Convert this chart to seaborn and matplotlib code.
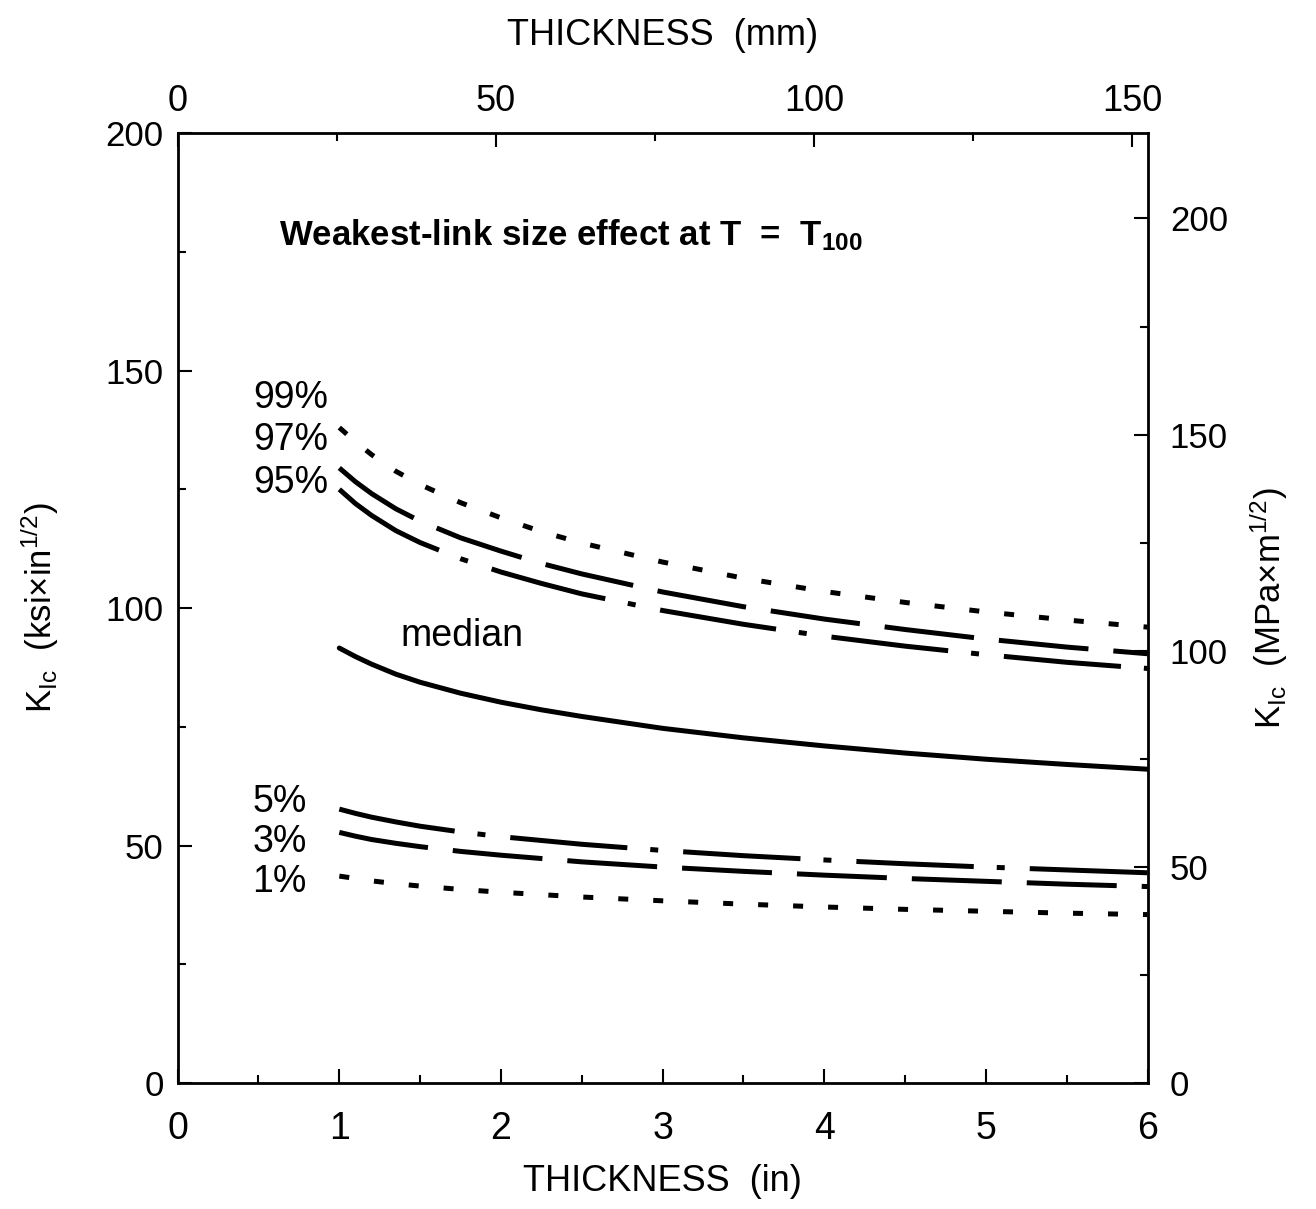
import numpy as np
import pandas as pd
import matplotlib.pyplot as plt
import seaborn as sns
from matplotlib.ticker import FixedLocator

# Data (thickness in inches, KIc in ksi*in^1/2)
thickness = [1, 1.1, 1.2, 1.35, 1.5, 1.75, 2, 2.25, 2.5, 3, 3.5, 4, 4.5, 5, 5.5, 6]
k99 = [138, 135, 132.3, 128.8, 126, 122.2, 119, 116.1, 113.7, 109.7, 106.3, 103.5, 101.2, 99.2, 97.5, 96]
k97 = [129.5, 126.6, 124.1, 120.9, 118.3, 114.8, 112, 109.4, 107.2, 103.4, 100.3, 97.7, 95.5, 93.5, 91.8, 90.4]
k95 = [125, 122, 119.5, 116.3, 113.8, 110.4, 107.6, 105.2, 103, 99.5, 96.6, 94.1, 92, 90.2, 88.6, 87.3]
k50 = [91.6, 89.8, 88.2, 86.1, 84.4, 82.1, 80.2, 78.6, 77.2, 74.7, 72.7, 71, 69.5, 68.2, 67.1, 66.1]
k05 = [57.7, 56.8, 56, 55, 54.1, 52.9, 51.9, 51.1, 50.3, 49, 47.9, 47, 46.2, 45.5, 44.9, 44.3]
k03 = [52.8, 52, 51.3, 50.5, 49.8, 48.8, 48, 47.3, 46.6, 45.5, 44.6, 43.8, 43.1, 42.5, 41.9, 41.4]
k01 = [43.6, 43.1, 42.6, 42, 41.5, 40.8, 40.2, 39.7, 39.2, 38.4, 37.7, 37.1, 36.6, 36.2, 35.8, 35.5]
levels = ['99%', '97%', '95%', 'median', '5%', '3%', '1%']

# tick positions
in_ticks = [0, 1, 2, 3, 4, 5, 6]
in_minor = [0.5, 1.5, 2.5, 3.5, 4.5, 5.5]
mm_ticks = [0, 50, 100, 150]
mm_minor = [25, 75, 125]
ksi_ticks = [0, 50, 100, 150, 200]
ksi_minor = [25, 75, 125, 175]
mpa_ticks = [0, 50, 100, 150, 200]
mpa_minor = [25, 75, 125, 175]

series = [k99, k97, k95, k50, k05, k03, k01]
df = pd.DataFrame({
    'thickness': thickness * len(levels),
    'K': [v for s in series for v in s],
    'level': [lv for lv in levels for _ in thickness],
})

sns.set_style('ticks')
plt.rcParams['font.family'] = ['Liberation Sans', 'DejaVu Sans']
plt.rcParams['mathtext.fontset'] = 'custom'
plt.rcParams['mathtext.rm'] = 'Liberation Sans'
plt.rcParams['mathtext.it'] = 'Liberation Sans'
plt.rcParams['mathtext.bf'] = 'Liberation Sans:bold'
for key in ['text.color', 'axes.labelcolor', 'xtick.color', 'ytick.color', 'axes.edgecolor']:
    plt.rcParams[key] = 'black'

fig = plt.figure(figsize=(13.16, 12.09), dpi=100)
ax = fig.add_axes([0.135, 0.104, 0.737, 0.786])

dot = (2.0, 5.0)
dash = (18, 5.0)
dashdot = (23.5, 4.6, 1.6, 5.0)
dash_map = {'99%': dot, '97%': dash, '95%': dashdot, 'median': '',
            '5%': dashdot, '3%': dash, '1%': dot}

sns.lineplot(data=df, x='thickness', y='K', style='level', dashes=dash_map,
             color='black', linewidth=3.6, legend=False, ax=ax)

ax.set_xlim(0, 6)
ax.set_ylim(0, 200)
ax.xaxis.set_major_locator(FixedLocator(in_ticks))
ax.xaxis.set_minor_locator(FixedLocator(in_minor))
ax.yaxis.set_major_locator(FixedLocator(ksi_ticks))
ax.yaxis.set_minor_locator(FixedLocator(ksi_minor))
ax.tick_params(which='both', direction='in', width=1.5, top=False, right=False)
ax.tick_params(which='major', length=10)
ax.tick_params(which='minor', length=6)
ax.tick_params(axis='y', labelsize=25, pad=10)
ax.tick_params(axis='x', labelsize=27, pad=20)
for sp in ax.spines.values():
    sp.set_linewidth(2)
    sp.set_visible(True)

ax.set_xlabel('THICKNESS  (in)', fontsize=26, labelpad=12)
ax.set_ylabel(r'K$_{\rm Ic}$  (ksi×in$^{1/2}$)', fontsize=25, labelpad=32)

# top axis: mm
top = ax.secondary_xaxis('top', functions=(lambda x: x * 25.4, lambda x: x / 25.4))
top.xaxis.set_major_locator(FixedLocator(mm_ticks))
top.xaxis.set_minor_locator(FixedLocator(mm_minor))
top.tick_params(which='both', direction='in', width=1.5, labelsize=26, pad=10)
top.tick_params(which='major', length=10)
top.tick_params(which='minor', length=6)
top.set_xlabel('THICKNESS  (mm)', fontsize=26, labelpad=28)

# right axis: MPa m^1/2
right = ax.secondary_yaxis('right', functions=(lambda k: k * 1.0988, lambda m: m / 1.0988))
right.yaxis.set_major_locator(FixedLocator(mpa_ticks))
right.yaxis.set_minor_locator(FixedLocator(mpa_minor))
right.tick_params(which='both', direction='in', width=1.5, labelsize=25, pad=16)
right.tick_params(which='major', length=10)
right.tick_params(which='minor', length=6)
right.set_ylabel(r'K$_{\rm Ic}$  (MPa×m$^{1/2}$)', fontsize=25, labelpad=14, rotation=90)

# annotations
for lab, yv in [('99%', 144.2), ('97%', 135.4), ('95%', 126.3)]:
    ax.text(0.93, yv, lab, fontsize=27, ha='right', va='center')
for lab, yv in [('5%', 59.2), ('3%', 50.7), ('1%', 42.3)]:
    ax.text(0.80, yv, lab, fontsize=27, ha='right', va='center')
ax.text(1.76, 94.1, 'median', fontsize=27, ha='center', va='center')
ax.text(0.63, 178.5, r'Weakest-link size effect at T  =  T$_{\mathbf{100}}$',
        fontsize=25, fontweight='bold', ha='left', va='center')

fig.savefig('out.png', dpi=100)
